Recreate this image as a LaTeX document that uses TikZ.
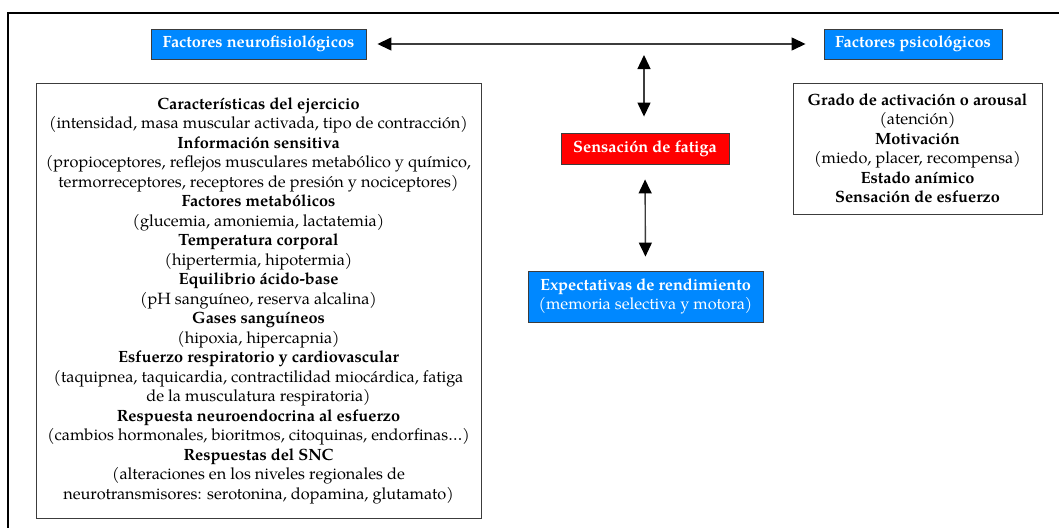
\documentclass[tikz,border=0pt]{standalone}
\usepackage{fontspec}
\setmainfont{texgyrepagella}[Extension=.otf, UprightFont=*-regular, BoldFont=*-bold, ItalicFont=*-italic, BoldItalicFont=*-bolditalic]
\usetikzlibrary{arrows.meta}
\definecolor{boxblue}{RGB}{0,136,255}
\definecolor{boxred}{RGB}{255,0,0}
\definecolor{edgegray}{RGB}{60,60,60}
\tikzset{
  txt/.style={font=\fontsize{16.3}{19.5}\selectfont},
  listbox/.style={txt, draw=edgegray, line width=0.9pt, align=center, inner sep=0pt},
  colorbox/.style={draw=edgegray, line width=0.9pt, align=center, inner sep=0pt, text=white, font=\fontsize{16.3}{19.5}\selectfont\bfseries},
  link/.style={draw=edgegray, line width=1.4pt, {Triangle[length=14pt,width=13pt,color=black]}-{Triangle[length=14pt,width=13pt,color=black]}}
}
\begin{document}
\begin{tikzpicture}[x=1pt,y=-1pt]
\useasboundingbox (0,0) rectangle (1059,527);
\begin{scope}
\clip (0,0) rectangle (1059,527);
% outer frame
\draw[line width=2pt, black] (8,13) rectangle (1075,545);
\end{scope}

\node[colorbox, fill=boxblue, minimum width=215pt, minimum height=30pt] (neuro) at (258.5,44) {Factores neurofisiológicos};
\node[colorbox, fill=boxblue, minimum width=178pt, minimum height=30pt] (psic) at (913,44) {Factores psicológicos};
\node[colorbox, fill=boxred, minimum width=168pt, minimum height=31pt] (fatiga) at (645,148.5) {Sensación de fatiga};
\node[colorbox, fill=boxblue, minimum width=235pt, minimum height=51pt] (expect) at (645.5,296.5) {Expectativas de rendimiento\\\mdseries(memoria selectiva y motora)};

\node[listbox, minimum width=445pt, minimum height=435pt] (neurolist) at (258.5,300.5) {%
\textbf{Características del ejercicio}\\
(intensidad, masa muscular activada, tipo de contracción)\\
\textbf{Información sensitiva}\\
(propioceptores, reflejos musculares metabólico y químico,\\
termorreceptores, receptores de presión y nociceptores)\\
\textbf{Factores metabólicos}\\
(glucemia, amoniemia, lactatemia)\\
\textbf{Temperatura corporal}\\
(hipertermia, hipotermia)\\
\textbf{Equilibrio ácido-base}\\
(pH sanguíneo, reserva alcalina)\\
\textbf{Gases sanguíneos}\\
(hipoxia, hipercapnia)\\
\textbf{Esfuerzo respiratorio y cardiovascular}\\
(taquipnea, taquicardia, contractilidad miocárdica, fatiga\\
de la musculatura respiratoria)\\
\textbf{Respuesta neuroendocrina al esfuerzo}\\
(cambios hormonales, bioritmos, citoquinas, endorfinas…)\\
\textbf{Respuestas del SNC}\\
(alteraciones en los niveles regionales de\\
neurotransmisores: serotonina, dopamina, glutamato)};

\node[listbox, minimum width=249pt, minimum height=131pt] (psiclist) at (917.5,148.5) {%
\textbf{Grado de activación o arousal}\\
(atención)\\
\textbf{Motivación}\\
(miedo, placer, recompensa)\\
\textbf{Estado anímico}\\
\textbf{Sensación de esfuerzo}};

% connectors
\coordinate (hub) at (644,43);
\draw[link, shorten <=11pt, shorten >=18pt] (neuro.east) -- (psic.west);
\draw[link, shorten <=12pt, shorten >=16pt] (hub) -- (hub |- fatiga.north);
\draw[link, shorten <=15pt, shorten >=14pt] (fatiga.south) -- (expect.north);
\end{tikzpicture}
\end{document}
